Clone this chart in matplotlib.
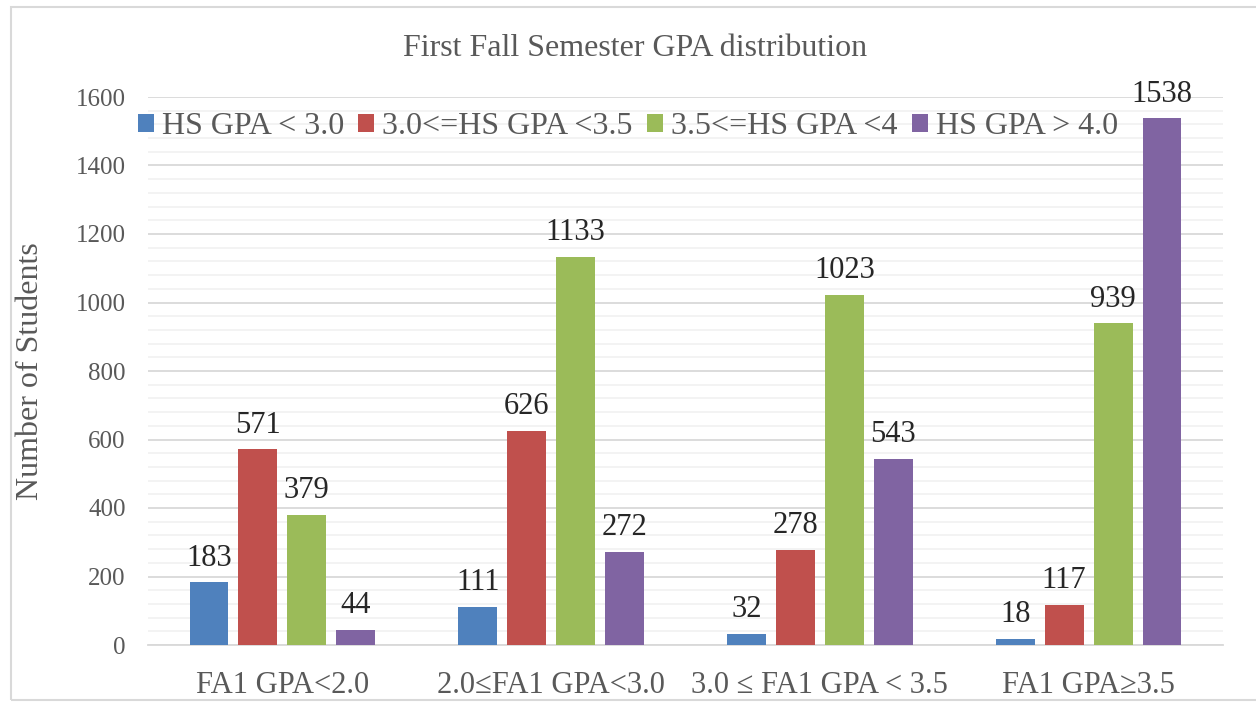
import numpy as np
import matplotlib.pyplot as plt
from matplotlib.patches import Rectangle
from matplotlib.ticker import MultipleLocator

# categories (first fall semester GPA bands) and HS GPA series
categories = ['FA1 GPA<2.0', '2.0≤FA1 GPA<3.0', '3.0 ≤ FA1 GPA < 3.5', 'FA1 GPA≥3.5']
series_names = ['HS GPA < 3.0', '3.0<=HS GPA <3.5', '3.5<=HS GPA <4', 'HS GPA > 4.0']
hs_below_30 = [183, 111, 32, 18]
hs_30_35 = [571, 626, 278, 117]
hs_35_40 = [379, 1133, 1023, 939]
hs_above_40 = [44, 272, 543, 1538]
colors = ['#4F81BD', '#C0504D', '#9BBB59', '#8064A2']

TEXT = '#595959'
plt.rcParams['font.family'] = ['Liberation Serif', 'DejaVu Serif']

fig = plt.figure(figsize=(12.56, 7.02), dpi=100)
ax = fig.add_axes([148 / 1256, 1 - 645 / 702, 1075 / 1256, 548 / 702])

# outer chart border
fig.patches.append(Rectangle((11 / 1256, 1 - 700 / 702), 1.2, 693 / 702,
                             transform=fig.transFigure, fill=False,
                             edgecolor='#D9D9D9', linewidth=1.5))

x = np.arange(len(categories))
step = 0.182
width = 0.145
all_series = [hs_below_30, hs_30_35, hs_35_40, hs_above_40]

for i, (vals, name, col) in enumerate(zip(all_series, series_names, colors)):
    pos = x + (i - 1.5) * step
    bars = ax.bar(pos, vals, width, color=col, label=name, zorder=3)
    for b, v in zip(bars, vals):
        ax.annotate(str(v), (b.get_x() + b.get_width() / 2, v),
                    xytext=(0, 7), textcoords='offset points',
                    ha='center', va='bottom', fontsize=22, color='#262626')

ax.set_xlim(-0.5, 3.5)
ax.set_ylim(0, 1600)
ax.yaxis.set_major_locator(MultipleLocator(200))
ax.yaxis.set_minor_locator(MultipleLocator(40))
ax.grid(which='major', axis='y', color='#D9D9D9', linewidth=1.3, zorder=0)
ax.grid(which='minor', axis='y', color='#F2F2F2', linewidth=1.3, zorder=0)
ax.set_axisbelow(True)

for s in ['top', 'right', 'left']:
    ax.spines[s].set_visible(False)
ax.spines['bottom'].set_color('#D9D9D9')
ax.spines['bottom'].set_linewidth(1.3)

ax.set_xticks(x)
ax.set_xticklabels(categories, fontsize=22, color=TEXT)
ax.tick_params(axis='x', length=0, pad=19)
ax.tick_params(axis='y', which='both', length=0, pad=16, labelsize=18, labelcolor=TEXT)

ax.set_ylabel('Number of Students', fontsize=23, color=TEXT)
ax.yaxis.set_label_coords(-0.096, 0.5)

fig.text(0.506, 1 - 48 / 702, 'First Fall Semester GPA distribution',
         ha='center', va='center', fontsize=23, color=TEXT)

fig.legend(loc='center', bbox_to_anchor=(628 / 1256, 1 - 127 / 702), ncol=4,
           frameon=False, fontsize=23, handlelength=0.5, handleheight=0.5,
           handletextpad=0.25, columnspacing=0.45, labelcolor=TEXT)

fig.savefig('out.png', dpi=100)
